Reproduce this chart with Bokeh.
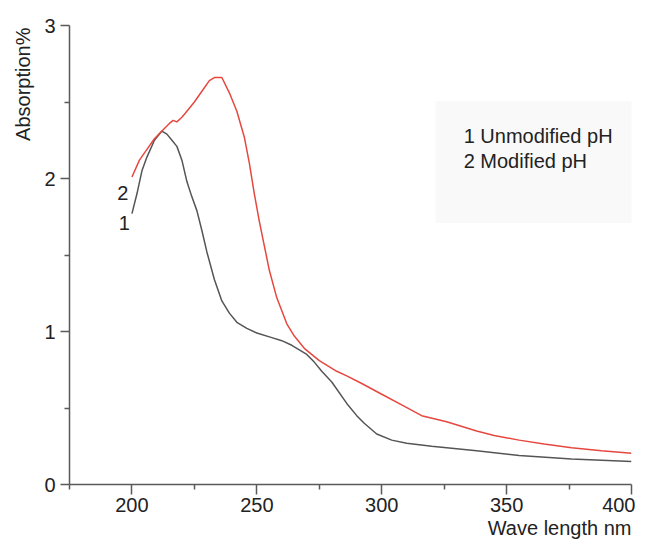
from bokeh.plotting import figure
from bokeh.models import FixedTicker, Range1d, BoxAnnotation, Title
from bokeh.core.properties import value
from bokeh.embed import file_html
from bokeh.resources import INLINE

# Curve 2: modified pH
wl_mod = [200, 203, 206, 209, 212, 215, 216.5, 218, 220, 222, 225, 228, 231, 233, 236,
          239, 242, 245, 247, 249, 251, 253, 255, 258, 262, 265, 269, 275, 282, 286,
          292, 300, 308, 316, 326, 338, 345, 355, 365, 376, 388, 400]
abs_mod = [2.01, 2.12, 2.19, 2.26, 2.31, 2.36, 2.38, 2.37, 2.40, 2.44, 2.50, 2.57, 2.64, 2.66, 2.66,
           2.56, 2.44, 2.27, 2.10, 1.90, 1.72, 1.56, 1.40, 1.22, 1.05, 0.97, 0.89, 0.81, 0.74, 0.71,
           0.66, 0.59, 0.52, 0.45, 0.41, 0.35, 0.32, 0.29, 0.265, 0.24, 0.22, 0.205]

# Curve 1: unmodified pH
wl_unmod = [200, 202, 204, 206, 209, 212, 214, 216, 218, 220, 222, 224, 226, 228, 230,
            233, 236, 239, 242, 246, 250, 256, 260, 264, 270, 273, 276, 280, 286, 290,
            293, 298, 304, 310, 320, 338, 355, 376, 400]
abs_unmod = [1.77, 1.90, 2.05, 2.14, 2.25, 2.31, 2.29, 2.25, 2.21, 2.12, 1.98, 1.88, 1.79, 1.66, 1.52,
             1.34, 1.20, 1.12, 1.06, 1.02, 0.99, 0.96, 0.94, 0.91, 0.85, 0.80, 0.74, 0.67, 0.53, 0.45,
             0.40, 0.33, 0.29, 0.27, 0.25, 0.22, 0.19, 0.167, 0.15]

x_ticks = [200, 250, 300, 350, 400]
x_minor = [175, 225, 275, 325, 375]
y_ticks = [0, 1, 2, 3]
y_minor = [0.5, 1.5, 2.5]
legend_lines = ["1 Unmodified pH", "2 Modified pH"]
curve_labels = ["1", "2"]
x_title = "Wave length nm"
y_title = "Absorption%"

FONT = "Liberation Sans"
AX = "#5a5a5a"
TXT = "#222222"

p = figure(width=635, height=541, output_backend="svg", toolbar_location=None,
           x_range=Range1d(175, 400), y_range=Range1d(0, 3),
           min_border_left=69, min_border_right=4, min_border_top=25, min_border_bottom=57)
p.outline_line_color = None
p.grid.visible = False
p.background_fill_color = "white"

p.add_layout(BoxAnnotation(left=321.6, right=404.8, top=2.505, bottom=1.709,
                           fill_color="#f9f9f9", fill_alpha=1.0, line_color=None,
                           level="underlay"))

p.line(wl_unmod, abs_unmod, line_color="#555555", line_width=1.5)
p.line(wl_mod, abs_mod, line_color="#e5483f", line_width=1.5)

p.text(x=[196.9, 196.3], y=[1.709, 1.908], text=curve_labels,
       text_font=value(FONT), text_font_size="20px", text_color=TXT,
       text_align="center", text_baseline="alphabetic")
p.text(x=[332.8, 332.8], y=[2.280, 2.113], text=legend_lines,
       text_font=value(FONT), text_font_size="20px", text_color=TXT,
       text_align="left", text_baseline="alphabetic")

p.xaxis.ticker = FixedTicker(ticks=x_ticks, minor_ticks=x_minor)
p.yaxis.ticker = FixedTicker(ticks=y_ticks, minor_ticks=y_minor)

for ax in (p.xaxis, p.yaxis):
    ax.axis_line_color = AX
    ax.axis_line_width = 1.5
    ax.major_tick_line_color = AX
    ax.major_tick_line_width = 1.5
    ax.minor_tick_line_color = AX
    ax.minor_tick_line_width = 1.5
    ax.major_tick_in = 0
    ax.minor_tick_in = 0
    ax.minor_tick_out = 5
    ax.major_label_text_font = FONT
    ax.major_label_text_font_size = "20px"
    ax.major_label_text_color = TXT

p.xaxis.major_tick_out = 10
p.yaxis.major_tick_out = 9
p.xaxis.major_label_standoff = 3
p.yaxis.major_label_standoff = 5

p.add_layout(Title(text=x_title, align="right", text_font=FONT, text_font_size="20px",
                   text_font_style="normal", text_color=TXT, standoff=0, offset=0), "below")
p.add_layout(Title(text=y_title, align="right", text_font=FONT, text_font_size="20px",
                   text_font_style="normal", text_color=TXT, standoff=16, offset=2), "left")

open("out.html", "w").write(file_html(p, INLINE))
